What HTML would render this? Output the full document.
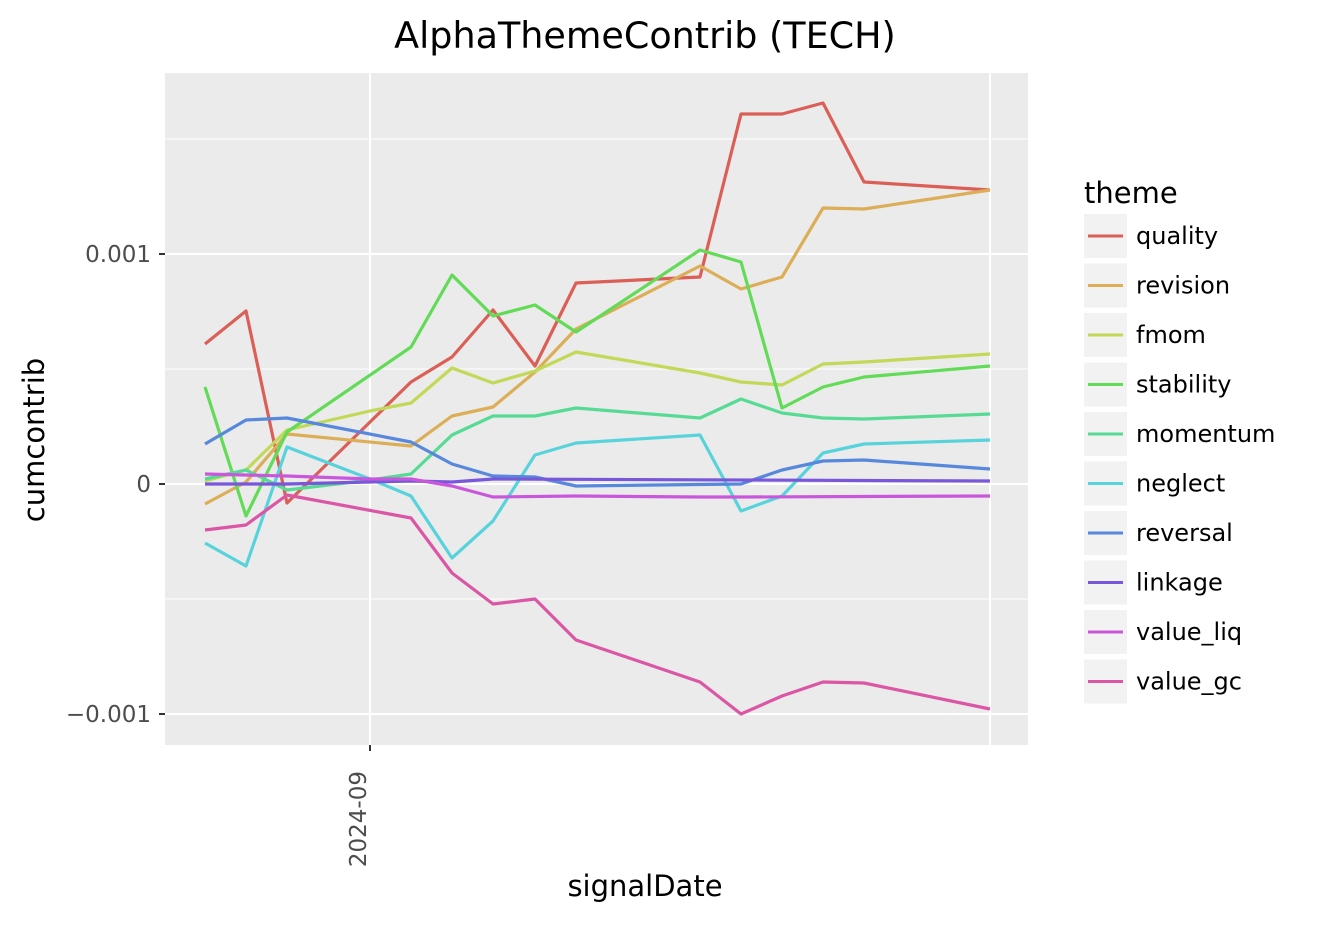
<!DOCTYPE html>
<html><head><meta charset="utf-8"><style>body{margin:0;background:#fff}</style></head><body>
<svg width="1331" height="922" xmlns="http://www.w3.org/2000/svg" font-family="DejaVu Sans, Liberation Sans, sans-serif">
<rect width="1331" height="922" fill="#fff"/>
<rect x="165" y="73" width="863" height="672" fill="#ebebeb"/>
<g stroke="#fff" stroke-width="1">
<line x1="165" x2="1028" y1="139" y2="139"/><line x1="165" x2="1028" y1="369" y2="369"/><line x1="165" x2="1028" y1="599" y2="599"/>
</g>
<g stroke="#fff" stroke-width="2">
<line x1="165" x2="1028" y1="254" y2="254"/><line x1="165" x2="1028" y1="484" y2="484"/><line x1="165" x2="1028" y1="714" y2="714"/>
<line x1="370" x2="370" y1="73" y2="745"/><line x1="990" x2="990" y1="73" y2="745"/>
</g>
<g fill="none" stroke-width="3.2" stroke-linejoin="round">
<polyline stroke="#db5f57" points="205,344 246,311 287,503 411,382 452,357 493,310 535,366 576,283 700,277 741,114 782,114 823,103 864,182 990,190"/>
<polyline stroke="#dbae57" points="205,504 246,482 287,434 411,446 452,416 493,407 535,372 576,329 700,266 741,289 782,277 823,208 864,209 990,190"/>
<polyline stroke="#c1d957" points="205,481 246,470 287,430 370,411 411,403 452,368 493,383 535,371 576,352 700,373 741,382 782,385 823,364 864,362 990,354"/>
<polyline stroke="#62db57" points="205,387 246,516 287,432 411,347 452,275 493,316 535,305 576,332 700,250 741,262 782,408 823,387 864,377 990,366"/>
<polyline stroke="#57db94" points="205,479 246,470 287,490 370,480 411,474 452,435 493,416 535,416 576,408 700,418 741,399 782,413 823,418 864,419 990,414"/>
<polyline stroke="#57d3db" points="205,543 246,566 287,447 370,479 411,496 452,558 493,521 535,455 576,443 700,435 741,511 782,496 823,453 864,444 990,440"/>
<polyline stroke="#5788db" points="205,444 246,420 287,418 411,442 452,464 493,476 535,477 576,486 741,484 782,470 823,461 864,460 990,469"/>
<polyline stroke="#7957db" points="205,484 287,484 370,482 411,481 452,482 493,479 990,481"/>
<polyline stroke="#c957db" points="205,474 287,476 370,479 411,479 452,486 493,497 576,496 700,497 741,497 990,496"/>
<polyline stroke="#db57a6" points="205,530 246,525 287,495 411,518 452,573 493,604 535,599 576,640 700,682 741,714 782,696 823,682 864,683 990,709"/>
</g>
<g stroke="#333" stroke-width="2"><line x1="159" x2="165" y1="254" y2="254"/><line x1="159" x2="165" y1="484" y2="484"/><line x1="159" x2="165" y1="714" y2="714"/><line x1="370" x2="370" y1="745" y2="751"/></g>
<g font-size="23" fill="#4d4d4d" text-anchor="end">
<text x="151" y="262">0.001</text><text x="151" y="492">0</text><text x="151" y="722">−0.001</text>
<text transform="translate(366,771) rotate(-90)" text-anchor="end">2024-09</text>
</g>
<text x="645" y="896" font-size="29" text-anchor="middle">signalDate</text>
<text transform="translate(44,440) rotate(-90)" font-size="29" text-anchor="middle">cumcontrib</text>
<text x="645" y="48" font-size="36.5" text-anchor="middle">AlphaThemeContrib (TECH)</text>
<text x="1084" y="203" font-size="29">theme</text>
<g font-size="24">
<g transform="translate(0,0)"><rect x="1084" y="214" width="43" height="44" fill="#f2f2f2"/><line x1="1088" x2="1123" y1="236" y2="236" stroke="#db5f57" stroke-width="3"/><text x="1136" y="244">quality</text></g>
<g transform="translate(0,49.5)"><rect x="1084" y="214" width="43" height="44" fill="#f2f2f2"/><line x1="1088" x2="1123" y1="236" y2="236" stroke="#dbae57" stroke-width="3"/><text x="1136" y="244">revision</text></g>
<g transform="translate(0,99)"><rect x="1084" y="214" width="43" height="44" fill="#f2f2f2"/><line x1="1088" x2="1123" y1="236" y2="236" stroke="#c1d957" stroke-width="3"/><text x="1136" y="244">fmom</text></g>
<g transform="translate(0,148.5)"><rect x="1084" y="214" width="43" height="44" fill="#f2f2f2"/><line x1="1088" x2="1123" y1="236" y2="236" stroke="#62db57" stroke-width="3"/><text x="1136" y="244">stability</text></g>
<g transform="translate(0,198)"><rect x="1084" y="214" width="43" height="44" fill="#f2f2f2"/><line x1="1088" x2="1123" y1="236" y2="236" stroke="#57db94" stroke-width="3"/><text x="1136" y="244">momentum</text></g>
<g transform="translate(0,247.5)"><rect x="1084" y="214" width="43" height="44" fill="#f2f2f2"/><line x1="1088" x2="1123" y1="236" y2="236" stroke="#57d3db" stroke-width="3"/><text x="1136" y="244">neglect</text></g>
<g transform="translate(0,297)"><rect x="1084" y="214" width="43" height="44" fill="#f2f2f2"/><line x1="1088" x2="1123" y1="236" y2="236" stroke="#5788db" stroke-width="3"/><text x="1136" y="244">reversal</text></g>
<g transform="translate(0,346.5)"><rect x="1084" y="214" width="43" height="44" fill="#f2f2f2"/><line x1="1088" x2="1123" y1="236" y2="236" stroke="#7957db" stroke-width="3"/><text x="1136" y="244">linkage</text></g>
<g transform="translate(0,396)"><rect x="1084" y="214" width="43" height="44" fill="#f2f2f2"/><line x1="1088" x2="1123" y1="236" y2="236" stroke="#c957db" stroke-width="3"/><text x="1136" y="244">value_liq</text></g>
<g transform="translate(0,445.5)"><rect x="1084" y="214" width="43" height="44" fill="#f2f2f2"/><line x1="1088" x2="1123" y1="236" y2="236" stroke="#db57a6" stroke-width="3"/><text x="1136" y="244">value_gc</text></g>
</g>
</svg>
</body></html>
